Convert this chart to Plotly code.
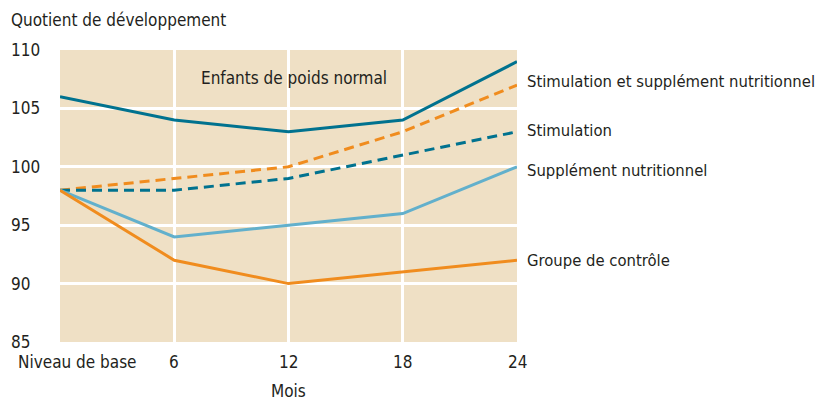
import plotly.graph_objects as go

months = [0, 6, 12, 18, 24]
x_tick_labels = ["Niveau de base", "6", "12", "18", "24"]
y_ticks = [85, 90, 95, 100, 105, 110]

normal = [106, 104, 103, 104, 109]
stim_supp = [98, 99, 100, 103, 107]
stim = [98, 98, 99, 101, 103]
supp = [98, 94, 95, 96, 100]
controle = [98, 92, 90, 91, 92]

TEAL = "#00728f"
ORANGE = "#f08c1e"
LIGHT = "#62b0cc"
BEIGE = "#efe0c5"
TXT = "#231f20"
FONT = "Liberation Sans Narrow, DejaVu Sans Condensed, Roboto, sans-serif"
FS = 17

OFF = 8  # page body margin
W, H = 830 - OFF, 400 - OFF
L, R, T, B = 60 - OFF, 517 - OFF, 50 - OFF, 342 - OFF

fig = go.Figure()
series = [
    (normal, TEAL, "solid", None),
    (stim_supp, ORANGE, "10px,6px", "Stimulation et supplément nutritionnel"),
    (stim, TEAL, "10px,6px", "Stimulation"),
    (supp, LIGHT, "solid", "Supplément nutritionnel"),
    (controle, ORANGE, "solid", "Groupe de contrôle"),
]
for vals, col, dash, name in series:
    fig.add_trace(go.Scatter(x=months, y=vals, mode="lines",
                             line=dict(color=col, width=3, dash=dash),
                             showlegend=False, hoverinfo="skip"))

ann = []
label_y = {"Stimulation et supplément nutritionnel": 107.3,
           "Stimulation": 103.1, "Supplément nutritionnel": 99.7,
           "Groupe de contrôle": 92.0}
font = dict(size=FS, color=TXT, family=FONT)
font_r = dict(size=16.5, color=TXT, family=FONT)
for vals, col, dash, name in series:
    if name:
        ann.append(dict(x=24, y=label_y[name], xref="x", yref="y", text=name,
                        xanchor="left", yanchor="middle", xshift=8,
                        showarrow=False, font=font_r))

pw = R - L
ph = B - T
def px(xp):
    return (xp - OFF - L) / pw
def py(yp):
    return (B - (yp - OFF)) / ph

for v in y_ticks:
    ann.append(dict(x=px(9), y=v, xref="paper", yref="y", text=str(v),
                    xanchor="left", yanchor="middle", showarrow=False, font=font))
for i, (m, lab) in enumerate(zip(months, x_tick_labels)):
    if i == 0:
        ann.append(dict(x=px(139), y=py(362), xref="paper", yref="paper",
                        text=lab, xanchor="right", yanchor="middle", showarrow=False,
                        font=font))
    else:
        ann.append(dict(x=m, y=py(362), xref="x", yref="paper",
                        text=lab, xanchor="center", yanchor="middle", showarrow=False,
                        font=font))
ann.append(dict(x=12, y=py(391), xref="x", yref="paper", text="Mois",
                xanchor="center", yanchor="middle", showarrow=False, font=font))
ann.append(dict(x=px(9), y=py(20), xref="paper", yref="paper",
                text="Quotient de développement", xanchor="left", yanchor="middle",
                showarrow=False, font=font))
ann.append(dict(x=12.3, y=107.6, xref="x", yref="y", text="Enfants de poids normal",
                xanchor="center", yanchor="middle", showarrow=False, font=font))

fig.update_layout(
    width=W, height=H,
    margin=dict(l=L, r=W - R, t=T, b=H - B, pad=0),
    paper_bgcolor="white", plot_bgcolor=BEIGE,
    annotations=ann,
    xaxis=dict(range=[0, 24], tickvals=[6, 12, 18], showticklabels=False,
               showgrid=True, gridcolor="white", gridwidth=3, zeroline=False,
               showline=False, fixedrange=True),
    yaxis=dict(range=[85, 110], tickvals=[90, 95, 100, 105], showticklabels=False,
               showgrid=True, gridcolor="white", gridwidth=3, zeroline=False,
               showline=False, fixedrange=True),
)
fig.write_html("out.html", config={"displayModeBar": False})
